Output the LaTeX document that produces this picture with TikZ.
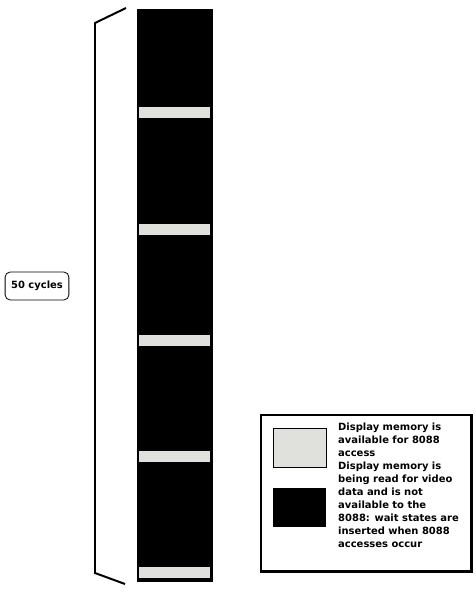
\documentclass[tikz,border=0pt]{standalone}
\usepackage{fontspec}
\setmainfont{DejaVu Sans}
\definecolor{slotfree}{RGB}{224,225,220}
\begin{document}
\begin{tikzpicture}[x=1bp,y=1bp]
    \tikzstyle{every node}+=[inner sep=0pt]
    \tikzstyle{legend text}=[font=\fontsize{10}{13.1}\selectfont\bfseries, align=left, anchor=north west]
    \tikzstyle{swatch}=[minimum width=53, minimum height=39, anchor=north west]
    \useasboundingbox (0,0) rectangle (476,-595);
    % memory cycles
    \fill [black] (137,-9) rectangle (213,-582);
    \foreach \y in {107,224,335,451,567}
        \fill [slotfree] (139,-\y) rectangle (210,-\y-11);
    % brace
    \coordinate (brace top) at (126,-8);
    \coordinate (brace bottom) at (125,-584);
    \draw [black, line width=2] (brace top) -- (95,-23) -- (95,-573) -- (brace bottom);
    \node [draw, rounded corners=5, line width=0.8, minimum width=64, minimum height=28, font=\fontsize{10}{12}\selectfont\bfseries] (cycles) at (37,-286) {50 cycles};
    % legend
    \node [draw, line width=2.5, minimum width=211, minimum height=157, anchor=north west] (legend) at (260,-414) {};
    \node [swatch, draw, line width=1.5, fill=slotfree] (free) at (273,-428) {};
    \node [swatch, fill=black] (busy) at (273,-488) {};
    \node [legend text] (free text) at (338,-422.4) {Display memory is\\available for 8088\\access};
    \node [legend text] (busy text) at (338,-461.4) {Display memory is\\being read for video\\data and is not\\available to the\\8088: wait states are\\inserted when 8088\\accesses occur};
\end{tikzpicture}
\end{document}
